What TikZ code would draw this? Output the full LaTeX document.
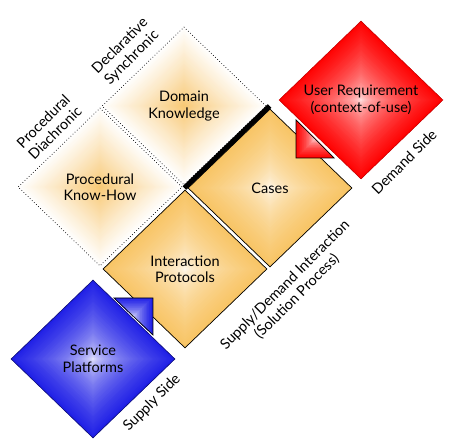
\documentclass[tikz,border=0pt]{standalone}
\usepackage{fontspec}
\setmainfont{Lato}
\usetikzlibrary{shapes.geometric,calc}
\definecolor{orng}{RGB}{248,196,100}
\definecolor{pale}{RGB}{248,200,115}
\definecolor{rd}{RGB}{255,0,0}
\definecolor{bl}{RGB}{30,30,230}
\newcommand\gdiam[5]{% cx cy edgecolour centrecolour gamma
  \foreach \k in {0,...,49}{%
    \pgfmathsetmacro\gs{1-\k/50}%
    \pgfmathtruncatemacro\gp{100*(\gs)^#5}%
    \fill[#3!\gp!#4] (#1-\gs*82,#2) -- (#1,#2-\gs*79) -- (#1+\gs*82,#2) -- (#1,#2+\gs*79) -- cycle;
  }}
\newcommand\gsquare[5]{% cx cy half edgecolour gamma
  \foreach \k in {0,...,29}{%
    \pgfmathsetmacro\gs{1-\k/30}%
    \pgfmathtruncatemacro\gp{100*(\gs)^#5}%
    \fill[#4!\gp!white] (#1-\gs*#3,#2-\gs*#3) rectangle (#1+\gs*#3,#2+\gs*#3);
  }}
\begin{document}
\begin{tikzpicture}[x=1pt,y=-1pt,
  txt/.style={font=\fontsize{14.5}{16.5}\selectfont, align=center},
  lbl/.style={txt, inner sep=0pt, rotate=45},
  dia/.style={txt, diamond, minimum width=164pt, minimum height=158pt, inner sep=0pt},
  solidb/.style={dia, draw=black, line width=0.7pt},
  dotb/.style={dia, draw=black, line width=0.7pt, dash pattern=on 0.7pt off 2.2pt},
  redb/.style={dia, draw=rd!75!black, line width=0.5pt},
  blueb/.style={dia, draw=bl!50!black, line width=0.6pt},
  fold/.style={draw=black, line width=0.7pt, line join=miter},
]
\useasboundingbox (0,0) rectangle (450,446);
% shadings
\gdiam{184}{106}{white}{pale}{0.9}
\gdiam{100}{187}{white}{pale}{0.9}
\gdiam{270}{188}{orng}{white}{0.5}
\gdiam{185}{269}{orng}{white}{0.5}
\gdiam{361}{100}{rd}{white}{0.5}
\gdiam{93}{359}{bl}{white}{0.5}
% nodes
\node[dotb] (dom) at (184,106) {Domain\\Knowledge};
\node[dotb] (proc) at (100,187) {Procedural\\Know-How};
\node[solidb] (cases) at (270,188) {Cases};
\node[solidb] (inter) at (185,269) {Interaction\\Protocols};
\node[redb] (user) at (361,100) {User Requirement\\(context-of-use)};
\node[blueb] (serv) at (93,359) {Service\\Platforms};
% thick separator
\draw[line width=5pt, shorten <=-2pt, shorten >=-2pt]
  ($(dom.east)!0.5!(cases.north)$) -- ($(dom.south)!0.5!(cases.west)$);
% folded corners
\coordinate (ra) at (296,120); \coordinate (rb) at (296,158); \coordinate (rc) at (334,158);
\begin{scope}
  \clip (ra) -- (rb) -- (rc) -- cycle;
  \gsquare{315}{139}{19}{rd}{0.5}
\end{scope}
\draw[fold] (ra) -- (rb) -- (rc) -- cycle;
\coordinate (ba) at (114,298); \coordinate (bb) at (153,298); \coordinate (bc) at (153,335);
\begin{scope}
  \clip (ba) -- (bb) -- (bc) -- cycle;
  \gsquare{133.5}{316.5}{19}{bl}{0.5}
\end{scope}
\draw[fold] (ba) -- (bb) -- (bc) -- cycle;
% labels
\node[lbl] (decl) at (126,52) {Declarative\\Synchronic};
\node[lbl] (diach) at (49,127) {Procedural\\Diachronic};
\node[lbl] (demand) at (404,162) {Demand Side};
\node[lbl] (supply) at (152,403) {Supply Side};
\node[lbl] (sdi) at (291,291) {Supply/Demand Interaction\\(Solution Process)};
\end{tikzpicture}
\end{document}
